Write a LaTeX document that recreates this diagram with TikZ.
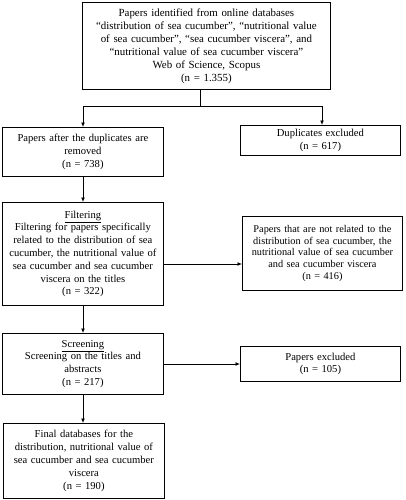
\documentclass[tikz,border=0pt]{standalone}
\usepackage{fontspec}
\setmainfont{Liberation Serif}
\usetikzlibrary{arrows.meta}
\tikzset{
  box/.style={draw, line width=0.8pt, align=center, anchor=north west, inner sep=0pt,
    font=\fontsize{10.6}{12.8}\selectfont},
  arr/.style={line width=0.9pt, -{Latex[length=4.5pt,width=4pt]}},
  ln/.style={line width=0.9pt}
}
\begin{document}
\begin{tikzpicture}[x=1pt,y=-1pt]
\path[use as bounding box, fill=white] (0,0) rectangle (405,500);
\node[box, minimum width=248pt, minimum height=87pt, text width=244pt,
  font=\fontsize{10.9}{13}\selectfont] (b1) at (82,2)
 {Papers identified from online databases\\
  “distribution of sea cucumber”, “nutritional value\\
  of sea cucumber”, “sea cucumber viscera”, and\\
  “nutritional value of sea cucumber viscera”\\
  Web of Science, Scopus\\
  (n = 1.355)};
\node[box, minimum width=161pt, minimum height=49pt, text width=158pt] (b2) at (2,127)
 {Papers after the duplicates are\\ removed\\ (n = 738)};
\node[box, minimum width=160pt, minimum height=30pt, text width=158pt] (b3) at (240,125)
 {Duplicates excluded\\ (n = 617)};
\node[box, minimum width=161pt, minimum height=103pt, text width=158pt] (b4) at (2,202)
 {\underline{Filtering}\\
  Filtering for papers specifically\\
  related to the distribution of sea\\
  cucumber, the nutritional value of\\
  sea cucumber and sea cucumber\\
  viscera on the titles\\
  (n = 322)};
\node[box, minimum width=160pt, minimum height=74pt, text width=158pt,
  font=\fontsize{10.3}{11.6}\selectfont] (b5) at (242,216)
 {Papers that are not related to the\\
  distribution of sea cucumber, the\\
  nutritional value of sea cucumber\\
  and sea cucumber viscera\\
  (n = 416)};
\node[box, minimum width=161pt, minimum height=61pt, text width=158pt] (b6) at (2,333)
 {\underline{Screening}\\
  Screening on the titles and\\
  abstracts\\
  (n = 217)};
\node[box, minimum width=160pt, minimum height=35pt, text width=158pt] (b7) at (240,346)
 {Papers excluded\\ (n = 105)};
\node[box, minimum width=161pt, minimum height=75pt, text width=158pt] (b8) at (3,423)
 {Final databases for the\\
  distribution, nutritional value of\\
  sea cucumber and sea cucumber\\
  viscera\\
  (n = 190)};
\coordinate (j) at (200,106);
\coordinate (jl) at (83,106);
\coordinate (jr) at (322,106);
\draw[ln] (b1.south -| j) -- (j);
\draw[ln] (jl) -- (jr);
\draw[arr] (jl) -- (b2.north -| jl);
\draw[arr] (jr) -- (b3.north -| jr);
\draw[arr] (b2.south -| jl) -- (b4.north -| jl);
\coordinate (m1) at (0,264);
\draw[arr] (b4.east |- m1) -- (b5.west |- m1);
\draw[arr] (b4.south -| jl) -- (b6.north -| jl);
\coordinate (m2) at (0,364);
\draw[arr] (b6.east |- m2) -- (b7.west |- m2);
\draw[arr] (b6.south -| jl) -- (b8.north -| jl);
\end{tikzpicture}
\end{document}
